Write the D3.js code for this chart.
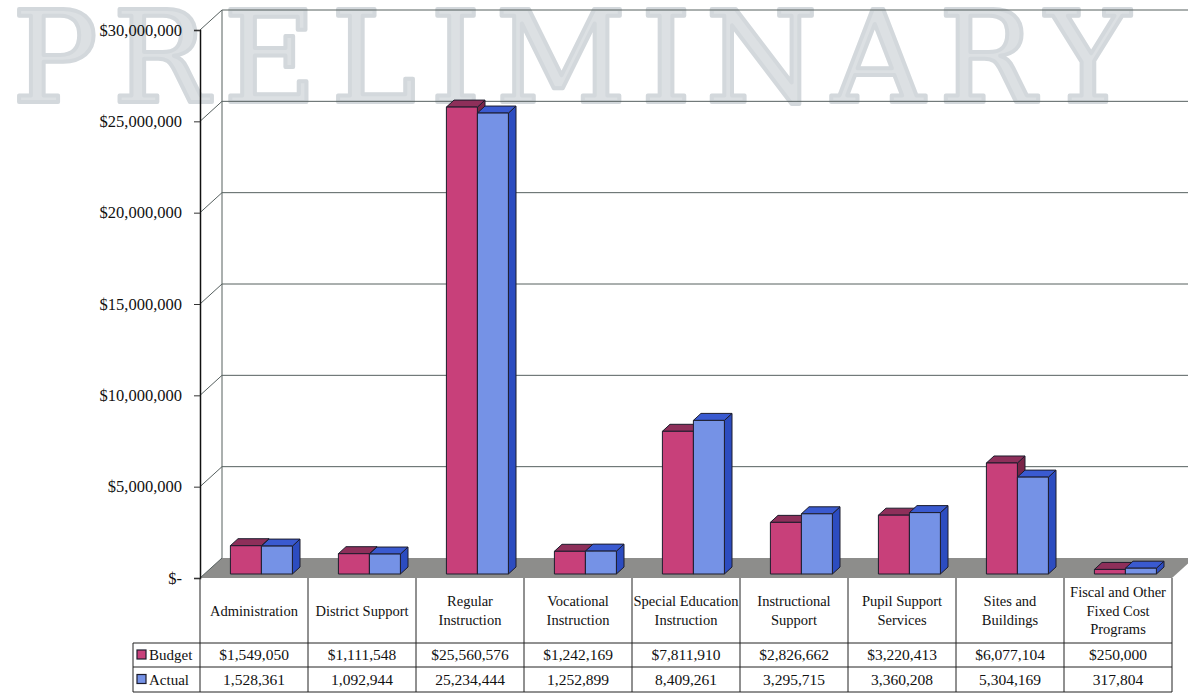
<!DOCTYPE html>
<html>
<head>
<meta charset="utf-8">
<script src="https://cdn.jsdelivr.net/npm/d3@7"></script>
<style>
  html, body { margin: 0; padding: 0; background: #fff; }
  svg { display: block; }
  text { font-family: "Liberation Serif", "DejaVu Serif", serif; fill: #111; }
</style>
</head>
<body>
<div id="chart"></div>
<script>
// data
const categories = [
  "Administration", "District Support", "Regular\nInstruction", "Vocational\nInstruction",
  "Special Education\nInstruction", "Instructional\nSupport", "Pupil Support\nServices",
  "Sites and\nBuildings", "Fiscal and Other\nFixed Cost\nPrograms"
];
const series = ["Budget", "Actual"];
const budget = [1549050, 1111548, 25560576, 1242169, 7811910, 2826662, 3220413, 6077104, 250000];
const actual = [1528361, 1092944, 25234444, 1252899, 8409261, 3295715, 3360208, 5304169, 317804];
const yTicks = [0, 5000000, 10000000, 15000000, 20000000, 25000000, 30000000];

const W = 1188, H = 694;
// 3D depth of the floor / walls
const DX = 22, DY = -20;
// bar front / back depth offsets
const bf = {x: 4.4, y: -4}, bb = {x: 12, y: -11};

const colors = {
  Budget: {front: "#c8407a", top: "#8e2f5a", side: "#7a2448"},
  Actual: {front: "#7592e6", top: "#3a5ad0", side: "#2c4cc0"}
};

const svg = d3.select("#chart").append("svg")
  .attr("width", W).attr("height", H);

const x = d3.scaleBand().domain(categories).range([200, 1172]);
const xs = d3.scaleBand().domain(series).range([26, 88]);
const y = d3.scaleLinear().domain([0, 30000000]).range([578, 30]);

// watermark
svg.append("text")
  .attr("x", 12).attr("y", 102)
  .attr("textLength", 1118)
  .attr("lengthAdjust", "spacing")
  .style("font-family", "'DejaVu Serif', serif")
  .style("font-size", "128px")
  .style("fill", "#dce0e3")
  .style("stroke", "#d3d8dc")
  .style("stroke-width", 4)
  .style("stroke-linejoin", "round")
  .text("PRELIMINARY");

// floor
const x0 = 200, x1 = 1172;
svg.append("polygon")
  .attr("points", [[x0, y(0)], [x0 + DX, y(0) + DY], [x1 + DX, y(0) + DY], [x1, y(0)]].join(" "))
  .attr("fill", "#8d8d8b");

// gridlines on back wall and side wall
const grid = svg.append("g").attr("stroke", "#56605f").attr("stroke-width", 1).attr("fill", "none");
yTicks.forEach(v => {
  if (v > 0) {
    grid.append("line")
      .attr("x1", x0 + DX).attr("x2", W + 5)
      .attr("y1", y(v) + DY).attr("y2", y(v) + DY);
  }
  grid.append("line")
    .attr("x1", x0).attr("y1", y(v))
    .attr("x2", x0 + DX).attr("y2", y(v) + DY);
});
grid.append("line")
  .attr("x1", x0 + DX).attr("x2", x0 + DX)
  .attr("y1", y(30000000) + DY).attr("y2", y(0) + DY);

// bars
const rows = categories.map((c, i) => ({cat: c, Budget: budget[i], Actual: actual[i]}));
const bars = [];
rows.forEach(r => series.forEach(s => bars.push({cat: r.cat, s: s, v: r[s]})));

const barG = svg.append("g").attr("stroke", "#1c1c2c").attr("stroke-width", 1).attr("stroke-linejoin", "round");
bars.forEach(d => {
  const bx = x(d.cat) + xs(d.s), w = xs.bandwidth();
  const yt = y(d.v), yb = y(0);
  const c = colors[d.s];
  // side
  barG.append("polygon")
    .attr("points", [[bx + w + bf.x, yt + bf.y], [bx + w + bb.x, yt + bb.y], [bx + w + bb.x, yb + bb.y], [bx + w + bf.x, yb + bf.y]].join(" "))
    .attr("fill", c.side);
  // top
  barG.append("polygon")
    .attr("points", [[bx + bf.x, yt + bf.y], [bx + w + bf.x, yt + bf.y], [bx + w + bb.x, yt + bb.y], [bx + bb.x, yt + bb.y]].join(" "))
    .attr("fill", c.top);
  // front
  barG.append("rect")
    .attr("x", bx + bf.x).attr("y", yt + bf.y)
    .attr("width", w).attr("height", yb - yt)
    .attr("fill", c.front);
});

// y axis
const yAxis = d3.axisLeft(y)
  .tickValues(yTicks)
  .tickSizeOuter(0)
  .tickSize(6)
  .tickPadding(12)
  .tickFormat(v => v === 0 ? "$-" : "$" + d3.format(",")(v));

const ax = svg.append("g")
  .attr("transform", `translate(${x0},0)`)
  .call(yAxis);
ax.select(".domain").attr("stroke", "#111").attr("stroke-width", 1.5);
ax.selectAll(".tick line").attr("stroke", "#333");
ax.selectAll(".tick text")
  .style("font-family", "'Liberation Serif', serif")
  .style("font-size", "16.5px")
  .attr("fill", "#111");

// data table
const t = svg.append("g");
const tTop = 578, rowTop = 643, rowMid = 667, rowBot = 692, legLeft = 133;
const lines = t.append("g").attr("stroke", "#222").attr("stroke-width", 1);
x.domain().forEach(c => {
  lines.append("line").attr("x1", x(c)).attr("x2", x(c)).attr("y1", tTop).attr("y2", rowBot);
});
lines.append("line").attr("x1", x1).attr("x2", x1).attr("y1", tTop).attr("y2", rowBot);
lines.append("line").attr("x1", legLeft).attr("x2", legLeft).attr("y1", rowTop).attr("y2", rowBot);
[rowTop, rowMid, rowBot].forEach(yy => {
  lines.append("line").attr("x1", legLeft).attr("x2", x1).attr("y1", yy).attr("y2", yy);
});

// category labels
categories.forEach(c => {
  const parts = c.split("\n");
  const lh = 18.5;
  const cy = (tTop + rowTop) / 2 + 5 - (parts.length - 1) * lh / 2;
  const txt = t.append("text")
    .attr("text-anchor", "middle")
    .style("font-size", "14.5px");
  parts.forEach((p, k) => {
    txt.append("tspan")
      .attr("x", x(c) + x.bandwidth() / 2)
      .attr("y", cy + k * lh)
      .text(p);
  });
});

// values
const fmt = d3.format(",");
categories.forEach((c, i) => {
  t.append("text")
    .attr("x", x(c) + x.bandwidth() / 2).attr("y", (rowTop + rowMid) / 2 + 5)
    .attr("text-anchor", "middle").style("font-size", "15.5px")
    .text("$" + fmt(budget[i]));
  t.append("text")
    .attr("x", x(c) + x.bandwidth() / 2).attr("y", (rowMid + rowBot) / 2 + 5)
    .attr("text-anchor", "middle").style("font-size", "15.5px")
    .text(fmt(actual[i]));
});

// legend keys
series.forEach((s, k) => {
  const cy = k === 0 ? (rowTop + rowMid) / 2 : (rowMid + rowBot) / 2;
  t.append("rect")
    .attr("x", 137).attr("y", cy - 5)
    .attr("width", 9).attr("height", 9)
    .attr("fill", colors[s].front)
    .attr("stroke", "#1c1c2c").attr("stroke-width", 1.2);
  t.append("text")
    .attr("x", 149).attr("y", cy + 5)
    .style("font-size", "15px")
    .text(s);
});
</script>
</body>
</html>
